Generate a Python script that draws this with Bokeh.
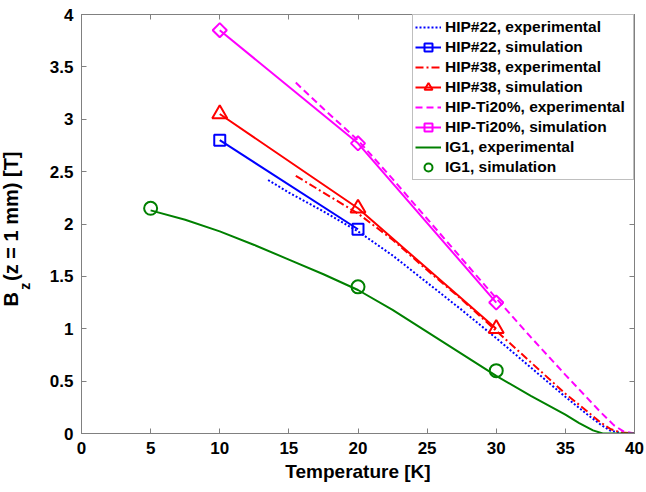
import numpy as np
from bokeh.plotting import figure
from bokeh.models import Range1d, LinearAxis, Title, Legend, LegendItem
from bokeh.embed import file_html
from bokeh.resources import INLINE

# ---------------- data ----------------
x_ticks = [0, 5, 10, 15, 20, 25, 30, 35, 40]
y_ticks = [0, 0.5, 1, 1.5, 2, 2.5, 3, 3.5, 4]
y_tick_labels = ["0", "0.5", "1", "1.5", "2", "2.5", "3", "3.5", "4"]

hip22_exp_T = [13.5, 15, 17.5, 20, 22.5, 25, 27.5, 30, 32.5, 35, 36.5, 37.5, 38.2, 39, 40]
hip22_exp_B = [2.42, 2.30, 2.12, 1.93, 1.70, 1.44, 1.18, 0.91, 0.63, 0.35, 0.19, 0.09, 0.03, 0.005, 0.0]
hip22_sim_T = [10, 20]
hip22_sim_B = [2.80, 1.95]

hip38_exp_T = [15.5, 17.5, 20, 22.5, 25, 27.5, 30, 32.5, 35, 36.5, 37.5, 38.3, 39, 40]
hip38_exp_B = [2.46, 2.30, 2.10, 1.85, 1.56, 1.28, 0.98, 0.68, 0.38, 0.22, 0.11, 0.04, 0.01, 0.0]
hip38_sim_T = [10, 20, 30]
hip38_sim_B = [3.05, 2.15, 1.00]

ti20_exp_T = [15.5, 17.5, 20, 22.5, 25, 27.5, 30, 32.5, 35, 36.5, 37.5, 38.5, 39.2, 40]
ti20_exp_B = [3.35, 3.10, 2.80, 2.43, 2.05, 1.67, 1.29, 0.92, 0.56, 0.35, 0.21, 0.08, 0.02, 0.0]
ti20_sim_T = [10, 20, 30]
ti20_sim_B = [3.85, 2.77, 1.25]

ig1_exp_T = [5, 7.5, 10, 12.5, 15, 17.5, 20, 22.5, 25, 27.5, 30, 32.5, 35, 36, 37, 37.7, 40]
ig1_exp_B = [2.13, 2.04, 1.93, 1.80, 1.66, 1.52, 1.37, 1.18, 0.97, 0.76, 0.55, 0.36, 0.18, 0.10, 0.03, 0.0, 0.0]
ig1_sim_T = [5, 20, 30]
ig1_sim_B = [2.15, 1.40, 0.60]

# ---------------- style ----------------
GRAY = "#808080"
FONT = "Liberation Sans"
BLUE, RED, MAG, GREEN = "#0000FF", "#FF0000", "#FF00FF", "#008000"
NB = "\u00a0"

p = figure(width=646, height=492, x_range=Range1d(0, 40), y_range=Range1d(0, 4),
           output_backend="svg", toolbar_location=None,
           min_border_left=81, min_border_right=12, min_border_top=14, min_border_bottom=59)
p.grid.visible = False
p.outline_line_color = GRAY
p.background_fill_color = "white"
p.border_fill_color = "white"


def style_axis(ax, ticks, labels=True):
    ax.axis_line_color = GRAY
    ax.major_tick_line_color = GRAY
    ax.major_tick_in = 5
    ax.major_tick_out = 0
    ax.minor_tick_line_color = None
    ax.major_label_text_font = FONT
    ax.major_label_text_font_style = "bold"
    ax.major_label_text_font_size = "17px"
    ax.major_label_text_color = "black"
    ax.major_label_standoff = 8
    if not labels:
        ax.major_label_overrides = {t: "" for t in ticks}
        ax.major_label_standoff = 0


xa = p.xaxis[0]
xa.ticker = x_ticks
style_axis(xa, x_ticks)
xa.axis_label = "Temperature [K]"
xa.axis_label_text_font = FONT
xa.axis_label_text_font_style = "bold"
xa.axis_label_text_font_size = "19px"
xa.axis_label_text_color = "black"
xa.axis_label_standoff = 4

ya = p.yaxis[0]
ya.ticker = y_ticks
style_axis(ya, y_ticks)
ya.major_label_overrides = {t: l for t, l in zip(y_ticks, y_tick_labels)}
# subscript "z" of B_z, shifted down along the axis with trailing no-break spaces
ya.axis_label = "z" + NB * 32
ya.axis_label_text_font = FONT
ya.axis_label_text_font_style = "bold"
ya.axis_label_text_font_size = "14px"
ya.axis_label_text_color = "black"
ya.axis_label_standoff = 14

top_ax = LinearAxis(ticker=x_ticks)
style_axis(top_ax, x_ticks, labels=False)
p.add_layout(top_ax, "above")
right_ax = LinearAxis(ticker=y_ticks)
style_axis(right_ax, y_ticks, labels=False)
p.add_layout(right_ax, "right")

# main part of the y label
ytitle = Title(text="B" + NB + NB + "(z = 1 mm) [T]", align="left", offset=127,
               standoff=-17, text_font=FONT, text_font_style="bold",
               text_font_size="20px", text_color="black")
p.add_layout(ytitle, "left")

# ---------------- glyphs ----------------
LW = 2
r22e = p.line(hip22_exp_T, hip22_exp_B, color=BLUE, line_width=LW, line_dash="2 2")
r22l = p.line(hip22_sim_T, hip22_sim_B, color=BLUE, line_width=LW)
r22m = p.scatter(hip22_sim_T, hip22_sim_B, marker="square", size=11, line_color=BLUE,
                 line_width=LW, fill_color=None)

r38e = p.line(hip38_exp_T, hip38_exp_B, color=RED, line_width=LW, line_dash="8 3 2 3")
r38l = p.line(hip38_sim_T, hip38_sim_B, color=RED, line_width=LW)
r38m = p.scatter(hip38_sim_T, hip38_sim_B, marker="triangle", size=15, line_color=RED,
                 line_width=LW, fill_color=None)

rtie = p.line(ti20_exp_T, ti20_exp_B, color=MAG, line_width=LW, line_dash="7 4")
rtil = p.line(ti20_sim_T, ti20_sim_B, color=MAG, line_width=LW)
rtim = p.scatter(ti20_sim_T, ti20_sim_B, marker="square", angle=np.pi / 4, size=10,
                 line_color=MAG, line_width=LW, fill_color=None)

rige = p.line(ig1_exp_T, ig1_exp_B, color=GREEN, line_width=LW)
rigm = p.scatter(ig1_sim_T, ig1_sim_B, marker="circle", size=13, line_color=GREEN,
                 line_width=LW, fill_color=None)

items = [
    LegendItem(label="HIP#22, experimental", renderers=[r22e]),
    LegendItem(label="HIP#22, simulation", renderers=[r22l, r22m]),
    LegendItem(label="HIP#38, experimental", renderers=[r38e]),
    LegendItem(label="HIP#38, simulation", renderers=[r38l, r38m]),
    LegendItem(label="HIP-Ti20%, experimental", renderers=[rtie]),
    LegendItem(label="HIP-Ti20%, simulation", renderers=[rtil, rtim]),
    LegendItem(label="IG1, experimental", renderers=[rige]),
    LegendItem(label="IG1, simulation", renderers=[rigm]),
]
legend = Legend(items=items, location="top_right", margin=0, padding=2, spacing=0,
                glyph_width=26, glyph_height=20, label_height=20, label_width=186,
                label_standoff=4, border_line_color=GRAY, border_line_width=1,
                background_fill_color="white", background_fill_alpha=1,
                label_text_font=FONT, label_text_font_style="bold",
                label_text_font_size="15.5px", label_text_color="black")
p.add_layout(legend)

open("out.html", "w").write(file_html(p, INLINE))
